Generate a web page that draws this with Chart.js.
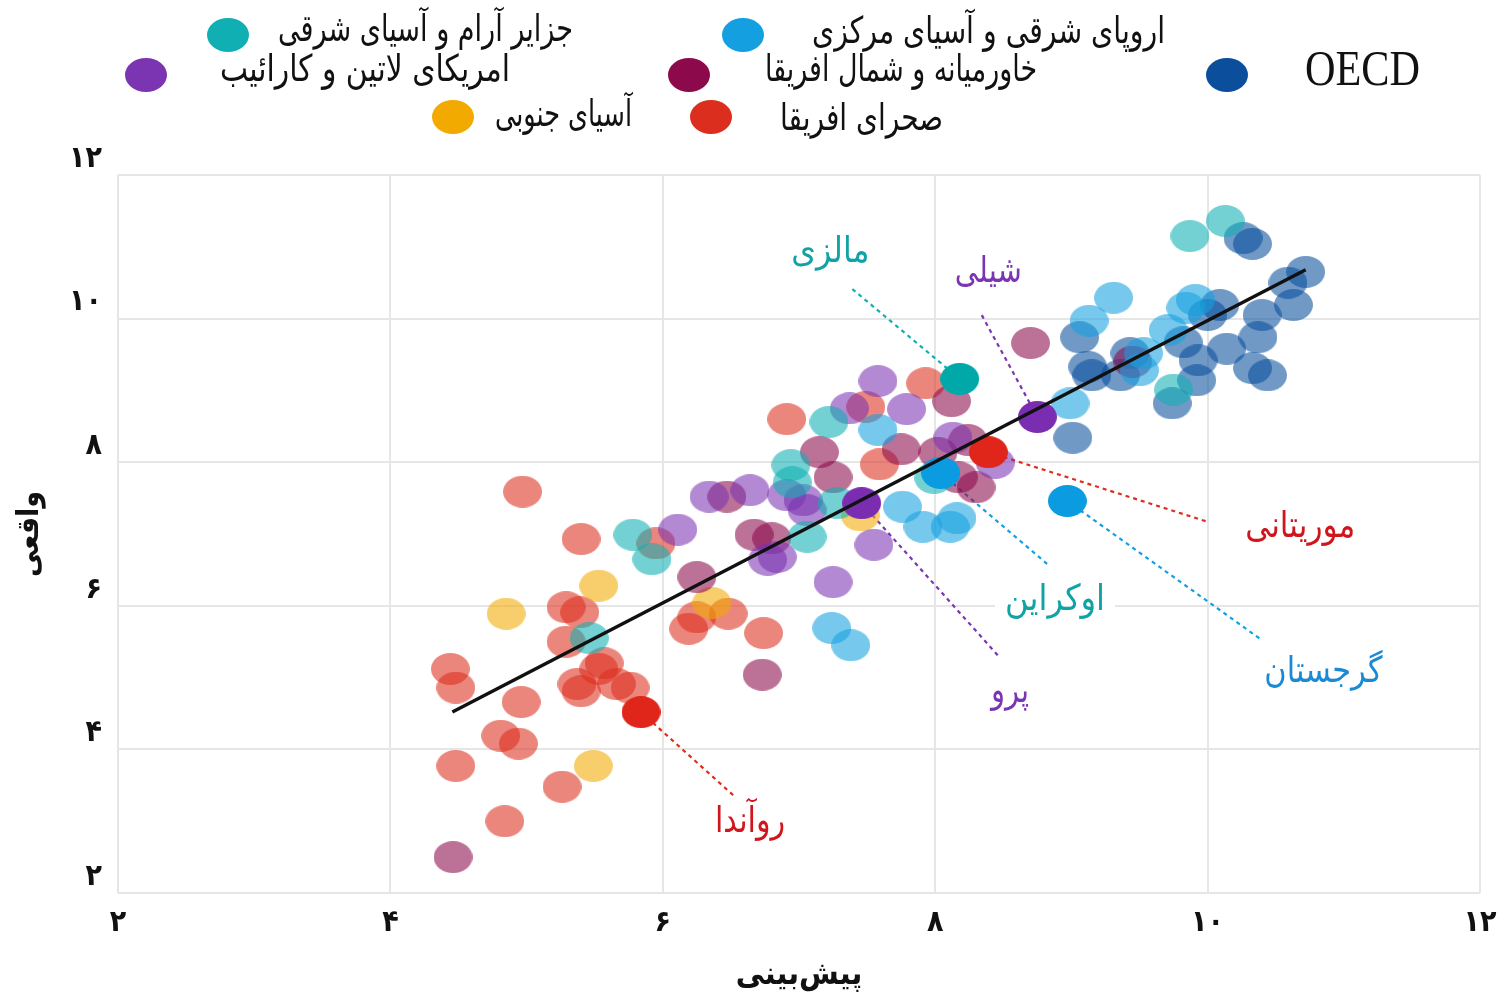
<!DOCTYPE html>
<html lang="fa">
<head>
<meta charset="utf-8">
<title>پیش‌بینی و واقعی</title>
<script src="https://cdn.jsdelivr.net/npm/chart.js@4.4.1/dist/chart.umd.min.js"></script>
<style>
  html, body { margin: 0; padding: 0; background: #fff; }
  #wrap { width: 1498px; height: 1001px; }
</style>
</head>
<body>
<div id="wrap"><canvas id="chart" width="1498" height="1001"></canvas></div>
<script>
// --- Data ---
const regionNames = ['جزایر آرام و آسیای شرقی', 'اروپای شرقی و آسیای مرکزی', 'امریکای لاتین و کارائیب',
  'خاورمیانه و شمال افریقا', 'OECD', 'آسیای جنوبی', 'صحرای افریقا'];

const eapX = [5.78, 5.92, 5.46, 6.94, 6.95, 7.22, 7.28, 7.06, 7.99, 9.87, 10.13, 9.75];
const eapY = [6.99, 6.65, 5.55, 7.96, 7.72, 8.56, 7.43, 6.96, 7.78, 11.15, 11.36, 9.01];

const ecaX = [7.58, 7.76, 7.91, 8.11, 8.16, 7.24, 7.38, 8.99, 9.31, 9.13, 9.91, 9.84, 9.71, 9.50, 9.53];
const ecaY = [8.45, 7.38, 7.10, 7.10, 7.22, 5.69, 5.45, 8.82, 10.29, 9.97, 10.26, 10.15, 9.84, 9.28, 9.52];

const lacX = [7.58, 7.37, 7.79, 8.13, 8.44, 6.34, 6.64, 6.91, 7.03, 7.06, 6.11, 6.77, 6.84, 7.55, 7.25];
const lacY = [9.13, 8.75, 8.74, 8.34, 7.99, 7.52, 7.61, 7.54, 7.47, 7.33, 7.06, 6.64, 6.68, 6.85, 6.33];

const menaX = [8.70, 8.12, 7.15, 7.75, 8.24, 8.02, 7.25, 8.17, 8.30, 6.47, 6.67, 6.80, 6.25, 6.73, 4.46, 9.45];
const menaY = [9.66, 8.85, 8.14, 8.18, 8.31, 8.13, 7.79, 7.79, 7.65, 7.52, 6.99, 6.94, 6.40, 5.04, 2.50, 9.40];

const oecdX = [10.26, 10.33, 10.72, 10.59, 10.63, 9.06, 10.09, 10.00, 9.82, 10.40, 10.37, 10.14, 9.93,
  10.33, 10.44, 9.92, 9.74, 9.12, 9.15, 9.36, 9.43, 9.01];
const oecdY = [11.12, 11.04, 10.65, 10.50, 10.19, 9.74, 10.19, 10.05, 9.67, 10.05, 9.74, 9.58, 9.42,
  9.31, 9.21, 9.14, 8.82, 9.33, 9.21, 9.21, 9.52, 8.34];

const sasX = [4.85, 5.53, 5.49, 6.36, 7.45];
const sasY = [5.89, 6.28, 3.77, 6.04, 7.26];

const ssaX = [4.97, 5.40, 5.95, 5.29, 5.39, 5.29, 5.57, 5.53, 5.37, 5.40, 5.66, 5.76, 4.44, 4.48, 4.96,
  4.81, 4.94, 4.48, 5.26, 4.84, 6.25, 6.48, 6.19, 6.74, 6.91, 7.49, 7.93, 7.59];
const ssaY = [7.59, 6.93, 6.87, 5.98, 5.91, 5.50, 5.20, 5.12, 4.91, 4.81, 4.91, 4.86, 5.12, 4.86, 4.66,
  4.19, 4.08, 3.77, 3.48, 3.00, 5.84, 5.89, 5.68, 5.62, 8.60, 8.77, 9.10, 7.97];

// highlighted countries
const hlNames = ['مالزی', 'شیلی', 'موریتانی', 'اوکراین', 'گرجستان', 'پرو', 'روآندا'];
const hlRegion = [0, 2, 6, 1, 1, 2, 6];
const hlX = [8.18, 8.75, 8.39, 8.04, 8.97, 7.46, 5.84];
const hlY = [9.16, 8.63, 8.14, 7.85, 7.46, 7.43, 4.52];
const hlLabelX = [7.23, 8.39, 10.68, 8.88, 10.85, 8.55, 6.64];
const hlLabelY = [10.89, 10.61, 7.06, 6.04, 5.04, 4.76, 2.95];
const hlLeadX = [7.38, 8.33, 10.00, 8.83, 10.40, 8.46, 6.53];
const hlLeadY = [10.43, 10.09, 7.17, 6.57, 5.52, 5.31, 3.34];

// regression line
const fitX = [4.455, 10.72];
const fitY = [4.52, 10.68];

const axisTicks = [2, 4, 6, 8, 10, 12];

// --- Styles ---
const regionColors = ['#10afb3', '#14a0e0', '#7b34b2', '#8c0a4b', '#0b4f9c', '#f2aa00', '#dc2e1e'];
const hlColors = ['#00a9a8', '#7a2db0', '#e0261a', '#0a9be0', '#0a9be0', '#7a2db0', '#e0261a'];
const hlTextColors = ['#10a3a6', '#7b34b2', '#d0161c', '#10a3a6', '#1a8ad4', '#7b34b2', '#d0161c'];
const hlTextWidth = [78, 67, 110, 100, 118, 38, 70];

const legendDotX = [228, 743, 146, 689, 1227, 453, 711];
const legendDotY = [35, 35, 75, 75, 75, 117, 117];
const legendTextLeft = [278, 812, 220, 765, 1305, 495, 780];
const legendTextRight = [573, 1165, 510, 1037, 1420, 632, 943];
const legendTextY = [31, 33, 71, 71, 72, 116, 120];

const faFont = '"DejaVu Sans Condensed", "DejaVu Sans", sans-serif';
const toFa = v => String(v).replace(/\d/g, d => '۰۱۲۳۴۵۶۷۸۹'[d]);

// --- Helpers ---
const makeEllipse = (color, alpha, w = 39, h = 32) => {
  const c = document.createElement('canvas');
  c.width = w; c.height = h;
  const g = c.getContext('2d');
  g.globalAlpha = alpha;
  g.fillStyle = color;
  g.beginPath();
  g.ellipse(w / 2, h / 2, w / 2, h / 2, 0, 0, Math.PI * 2);
  g.fill();
  return c;
};
const pts = (xs, ys) => xs.map((x, i) => ({ x: x, y: ys[i] }));

// draws text squeezed into [left, right]
const fitText = (ctx, text, left, right, y, font, color) => {
  ctx.save();
  ctx.font = font;
  ctx.fillStyle = color;
  ctx.textBaseline = 'middle';
  ctx.textAlign = 'left';
  const w = ctx.measureText(text).width;
  const sx = Math.min(1.2, (right - left) / w);
  ctx.translate(left, y);
  ctx.scale(sx, 1);
  ctx.fillText(text, 0, 0);
  ctx.restore();
};

const regionSeries = [[eapX, eapY], [ecaX, ecaY], [lacX, lacY], [menaX, menaY], [oecdX, oecdY], [sasX, sasY], [ssaX, ssaY]];

const datasets = [
  {
    type: 'line',
    label: 'fit',
    data: pts(fitX, fitY),
    borderColor: '#111',
    borderWidth: 3.5,
    pointRadius: 0,
    showLine: true
  },
  {
    label: 'highlight',
    data: pts(hlX, hlY),
    pointStyle: hlColors.map(c => makeEllipse(c, 1)),
    pointRadius: 16
  }
];
regionSeries.forEach(([xs, ys], i) => {
  datasets.push({
    label: regionNames[i],
    data: pts(xs, ys),
    pointStyle: makeEllipse(regionColors[i], 0.58),
    pointRadius: 16
  });
});

// --- Plugins: legend and country labels ---
const legendPlugin = {
  id: 'topLegend',
  afterDraw(chart) {
    const ctx = chart.ctx;
    regionNames.forEach((name, i) => {
      ctx.save();
      ctx.fillStyle = regionColors[i];
      ctx.beginPath();
      ctx.ellipse(legendDotX[i], legendDotY[i], 21, 17, 0, 0, Math.PI * 2);
      ctx.fill();
      ctx.restore();
      const font = name === 'OECD' ? '50px "Liberation Serif", serif' : '37px ' + faFont;
      fitText(ctx, name, legendTextLeft[i], legendTextRight[i], legendTextY[i], font, '#111');
    });
  }
};

const labelPlugin = {
  id: 'countryLabels',
  beforeDatasetsDraw(chart) {
    const ctx = chart.ctx;
    const sx = chart.scales.x, sy = chart.scales.y;
    hlNames.forEach((name, i) => {
      const px = sx.getPixelForValue(hlX[i]), py = sy.getPixelForValue(hlY[i]);
      const lx = sx.getPixelForValue(hlLeadX[i]), ly = sy.getPixelForValue(hlLeadY[i]);
      ctx.save();
      ctx.strokeStyle = regionColors[hlRegion[i]];
      ctx.lineWidth = 2.2;
      ctx.setLineDash([4, 4]);
      ctx.beginPath();
      ctx.moveTo(px, py);
      ctx.lineTo(lx, ly);
      ctx.stroke();
      ctx.restore();

      const tx = sx.getPixelForValue(hlLabelX[i]), ty = sy.getPixelForValue(hlLabelY[i]);
      const w = hlTextWidth[i];
      ctx.save();
      ctx.fillStyle = '#fff';
      ctx.fillRect(tx - w / 2 - 10, ty - 26, w + 20, 52);
      ctx.restore();
      fitText(ctx, name, tx - w / 2, tx + w / 2, ty - 2, '36px ' + faFont, hlTextColors[i]);
    });
  }
};

// --- Chart ---
new Chart(document.getElementById('chart').getContext('2d'), {
  type: 'scatter',
  data: { datasets },
  options: {
    responsive: false,
    animation: false,
    layout: { padding: { top: 175, right: 18, left: 0, bottom: 0 }, autoPadding: false },
    plugins: {
      legend: { display: false },
      tooltip: { enabled: false }
    },
    scales: {
      x: {
        type: 'linear', min: 2, max: 12,
        afterBuildTicks: s => { s.ticks = axisTicks.map(v => ({ value: v })); },
        ticks: { callback: toFa, color: '#111', padding: 12, maxRotation: 0,
          font: { family: faFont, size: 30, weight: 'bold' } },
        grid: { color: '#e6e6e6', lineWidth: 2, drawTicks: false },
        border: { display: false },
        title: { display: true, text: 'پیش‌بینی', color: '#111', padding: { top: 4, bottom: 6 },
          font: { family: faFont, size: 32, weight: 'bold' } },
        afterFit: s => { s.height = 108; s.paddingLeft = 0; s.paddingRight = 0; }
      },
      y: {
        type: 'linear', min: 2, max: 12,
        afterBuildTicks: s => { s.ticks = axisTicks.map(v => ({ value: v })); },
        ticks: { callback: toFa, color: '#111', padding: 16, labelOffset: -16,
          font: { family: faFont, size: 30, weight: 'bold' } },
        grid: { color: '#e6e6e6', lineWidth: 2, drawTicks: false },
        border: { display: false },
        title: { display: true, text: 'واقعی', color: '#111', padding: { top: 12, bottom: 0 },
          font: { family: faFont, size: 30, weight: 'bold' } },
        afterFit: s => { s.width = 118; s.paddingTop = 0; s.paddingBottom = 0; }
      }
    }
  },
  plugins: [labelPlugin, legendPlugin]
});
</script>
</body>
</html>
